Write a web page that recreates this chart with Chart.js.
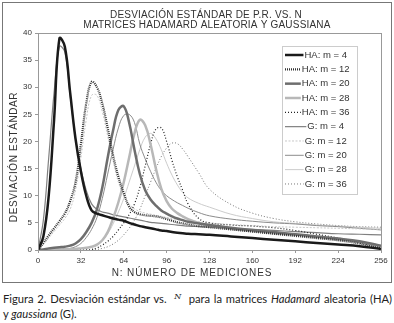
<!DOCTYPE html>
<html>
<head>
<meta charset="utf-8">
<script src="https://cdn.jsdelivr.net/npm/chart.js@4.4.0/dist/chart.umd.min.js"></script>
<style>
  body { margin: 0; background: #fff; width: 394px; height: 323px; overflow: hidden; position: relative; }
  #box { position: absolute; left: 2px; top: 2px; width: 388px; height: 279px; border: 1px solid #777; }
  #caption { position: absolute; left: 3px; top: 289px; width: 389px; font-family: Lato, sans-serif; font-size: 11.2px;
             line-height: 15px; color: #222; }
  #caption .l1 { white-space: nowrap; text-align: justify; text-align-last: justify; }
  #caption .n { font-family: "DejaVu Serif", serif; font-style: italic; font-size: 8px; vertical-align: 4px; }
</style>
</head>
<body>
<div id="box"><canvas id="chart" width="388" height="279"></canvas></div>
<div id="caption">
  <div class="l1">Figura 2. Desviación estándar vs. &nbsp;<span class="n">N</span>&nbsp; para la matrices <i>Hadamard</i> aleatoria (HA)</div>
  <div>y <i>gaussiana</i> (G).</div>
</div>
<script>
// N values (x) shared by every series
var nValues = [0,4,8,12,16,20,24,28,32,36,40,44,48,52,56,60,64,68,72,76,80,84,88,92,96,100,104,108,112,120,128,144,160,176,192,208,224,240,256];

var haM4  = [0,2.5,10,24,39,37.5,29,20.5,14.5,10,7.3,6.7,6.4,6.1,5.8,5.6,5.4,5.0,4.7,4.4,4.2,4.0,3.8,3.6,3.5,3.3,3.2,3.1,3.0,2.9,2.8,2.5,2.2,1.9,1.6,1.3,1.0,0.7,0.2];
var haM12 = [0,1.3,2.7,4.0,5.3,6.7,9,12.5,19.5,27,31,30,27,22.5,17.5,13.5,10.5,8,7,6.6,6.4,6.3,6.2,6.0,5.7,5.4,5.1,4.9,4.7,4.4,4.2,3.8,3.4,3.0,2.6,2.2,1.8,1.2,0.3];
var haM20 = [0,0.1,0.3,0.4,0.5,0.6,0.8,1.2,2,3.3,5,7.5,11.5,17,22,25.8,26.5,23.5,18.5,14,11,9.3,8.2,7.3,6.7,6.2,5.8,5.5,5.2,4.9,4.6,4.1,3.7,3.3,2.9,2.5,2.1,1.6,0.8];
var haM28 = [0,0,0,0.05,0.1,0.1,0.15,0.2,0.3,0.4,0.6,1.0,1.8,3.3,5.8,8.8,12.5,17,21.5,24,23,19.5,15,11.3,9,7.6,6.8,6.2,5.7,5.0,4.5,3.9,3.5,3.1,2.8,2.4,2.0,1.5,0.7];
var haM36 = [0,0,0,0,0,0,0,0,0,0,0.1,0.4,0.9,1.6,2.5,3.7,5,6.5,8.5,11.5,15.5,19.5,22.3,22.5,20,16.5,13.5,11,8.5,5.8,5,4.6,4.4,4.1,3.6,2.9,2.2,1.3,0.3];
var gM4   = [0,5.5,17,29,37.5,36.5,28.5,20.5,15,11,8.5,7.5,7.0,6.8,6.5,6.3,6.1,5.9,5.7,5.5,5.3,5.1,5.0,4.9,4.8,4.7,4.6,4.5,4.4,4.3,4.2,4.0,3.8,3.6,3.4,3.2,3.0,2.9,2.8];
var gM12  = [0,1.0,2.2,3.4,4.6,5.8,7.5,11,17,24,28.5,28.5,25.5,21,16.5,12.5,10,8.5,7.6,7.1,6.8,6.6,6.4,6.2,6.0,5.8,5.6,5.5,5.4,5.2,5.0,4.7,4.5,4.3,4.2,4.1,4.0,3.9,3.8];
var gM20  = [0,0,0.05,0.1,0.15,0.2,0.3,0.6,1.2,2.3,3.8,6,9.5,14,18.5,22.5,24.8,25,23.5,19.5,16.8,14.5,12.5,11,10,9.3,8.7,8.2,7.7,6.9,6.3,5.7,5.3,5.0,4.8,4.5,4.3,4.0,3.7];
var gM28  = [0,0,0,0,0.05,0.1,0.15,0.2,0.3,0.4,0.5,1,1.8,3,4.8,7,9.5,12.5,15.5,18.5,20.8,21.5,20.5,18.5,16,13.8,12,10.6,9.6,8.6,7.9,6.6,5.8,5.2,4.9,4.6,4.4,4.2,4.0];
var gM36  = [0,0,0,0,0,0,0,0,0,0,0,0.1,0.3,0.6,1.1,1.8,2.8,4,5.5,7.5,10,12.5,15,17.2,18.8,19.7,19.6,18.6,17.2,14.2,11.2,8.4,6.8,5.8,5.2,4.8,4.5,4.3,4.2];

var seriesLabels = ['HA: m = 4', 'HA: m = 12', 'HA: m = 20', 'HA: m = 28', 'HA: m = 36',
                    'G: m = 4', 'G: m = 12', 'G: m = 20', 'G: m = 28', 'G: m = 36'];
var seriesValues = [haM4, haM12, haM20, haM28, haM36, gM4, gM12, gM20, gM28, gM36];
var xTicks = [0, 32, 64, 96, 128, 160, 192, 224, 256];

var styles = [
  { color: '#1a1a1a', width: 2.5, dash: [] },
  { color: '#333333', width: 2.2, dash: [1, 1] },
  { color: '#6e6e6e', width: 2.5, dash: [] },
  { color: '#b8b8b8', width: 2.5, dash: [] },
  { color: '#222222', width: 1.2, dash: [1, 2] },
  { color: '#808080', width: 1.2, dash: [] },
  { color: '#c8c8c8', width: 1, dash: [2, 1.5] },
  { color: '#8c8c8c', width: 1, dash: [] },
  { color: '#cccccc', width: 1, dash: [] },
  { color: '#777777', width: 1, dash: [1, 2] }
];

var FONT = '"Liberation Sans", Arial, sans-serif';

var datasets = seriesValues.map(function(values, i) {
  return {
    label: seriesLabels[i],
    data: values.map(function(v, j) { return { x: nValues[j], y: v }; }),
    borderColor: styles[i].color,
    borderWidth: styles[i].width,
    borderDash: styles[i].dash,
    pointRadius: 0,
    fill: false,
    tension: 0.4
  };
});

var framePlugin = {
  id: 'frame',
  beforeDraw: function(chart) {
    var ctx = chart.ctx;
    ctx.save();
    ctx.fillStyle = '#fff';
    ctx.fillRect(0, 0, chart.width, chart.height);
    ctx.restore();
  },
  afterDraw: function(chart) {
    var ctx = chart.ctx;
    var a = chart.chartArea;
    ctx.save();

    // plot area border
    ctx.strokeStyle = '#999';
    ctx.lineWidth = 1;
    ctx.strokeRect(Math.round(a.left) + 0.5, Math.round(a.top) + 0.5,
                   Math.round(a.right - a.left), Math.round(a.bottom - a.top));

    // titles
    ctx.fillStyle = '#333';
    ctx.textAlign = 'center';
    ctx.textBaseline = 'middle';
    ctx.font = '10px ' + FONT;
    ctx.letterSpacing = '0.2px';
    ctx.fillText('DESVIACIÓN ESTÁNDAR DE P.R. VS. N', 203, 12);
    ctx.fillText('MATRICES HADAMARD ALEATORIA Y GAUSSIANA', 204, 22);

    ctx.letterSpacing = '0.9px';
    ctx.fillText('N: NÚMERO DE MEDICIONES', 189, 270);

    ctx.letterSpacing = '0.6px';
    ctx.save();
    ctx.translate(11, 154);
    ctx.rotate(-Math.PI / 2);
    ctx.fillText('DESVIACIÓN ESTÁNDAR', 0, 0);
    ctx.restore();
    ctx.letterSpacing = '0px';

    // legend
    var lx = 279, ly = 43, lw = 75, lh = 148;
    ctx.fillStyle = '#fff';
    ctx.fillRect(lx, ly, lw, lh);
    ctx.strokeStyle = '#ccc';
    ctx.strokeRect(lx + 0.5, ly + 0.5, lw, lh);
    ctx.font = '9.5px ' + FONT;
    ctx.textAlign = 'left';
    chart.data.datasets.forEach(function(ds, i) {
      var y = 52 + i * 14.33;
      var tw = ctx.measureText(ds.label).width;
      var tx = 322.7 - tw / 2;
      ctx.beginPath();
      ctx.setLineDash(ds.borderDash);
      ctx.lineWidth = ds.borderWidth;
      ctx.strokeStyle = ds.borderColor;
      ctx.moveTo(282, y);
      ctx.lineTo(tx - 1, y);
      ctx.stroke();
      ctx.setLineDash([]);
      ctx.fillStyle = '#333';
      ctx.fillText(ds.label, tx, y);
    });
    ctx.restore();
  }
};

new Chart(document.getElementById('chart'), {
  type: 'line',
  data: { datasets: datasets },
  plugins: [framePlugin],
  options: {
    responsive: false,
    animation: false,
    layout: { padding: { top: 30, right: 10, left: 0, bottom: 0 } },
    plugins: {
      legend: { display: false },
      title: { display: false },
      tooltip: { enabled: false }
    },
    scales: {
      x: {
        type: 'linear',
        min: 0,
        max: 256,
        afterFit: function(s) { s.height = 32; },
        afterBuildTicks: function(s) { s.ticks = xTicks.map(function(v) { return { value: v }; }); },
        grid: { drawOnChartArea: false, drawTicks: true, tickLength: 3, color: '#999' },
        border: { display: false },
        ticks: { font: { family: FONT, size: 8 }, color: '#333', padding: 3, maxRotation: 0 }
      },
      y: {
        min: 0,
        max: 40,
        afterFit: function(s) { s.width = 35; },
        grid: { drawOnChartArea: false, drawTicks: true, tickLength: 3, color: '#999' },
        border: { display: false },
        ticks: { stepSize: 5, font: { family: FONT, size: 8 }, color: '#333', padding: 3 }
      }
    }
  }
});
</script>
</body>
</html>
